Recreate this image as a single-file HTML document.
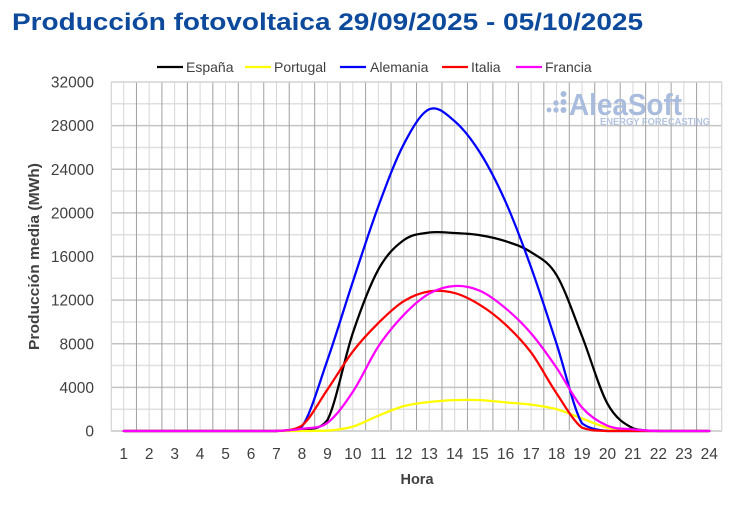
<!DOCTYPE html>
<html>
<head>
<meta charset="utf-8">
<style>
  html, body { margin: 0; padding: 0; background: #ffffff; }
  svg { display: block; }
  text { font-family: "Liberation Sans", "DejaVu Sans", sans-serif; }
</style>
</head>
<body>
<svg width="730" height="509" viewBox="0 0 730 509" xmlns="http://www.w3.org/2000/svg">
  <rect width="730" height="509" fill="#ffffff"/>

  <!-- Title -->
  <text x="12" y="30" font-size="24" font-weight="bold" fill="#0d4a9c" textLength="631" lengthAdjust="spacingAndGlyphs">Producción fotovoltaica 29/09/2025 - 05/10/2025</text>

  <!-- Legend -->
  <g font-size="14" fill="#404040">
    <line x1="157" y1="67" x2="183" y2="67" stroke="#000000" stroke-width="2.25"/>
    <text x="186" y="72">España</text>
    <line x1="245" y1="67" x2="271" y2="67" stroke="#ffff00" stroke-width="2.25"/>
    <text x="274" y="72">Portugal</text>
    <line x1="340" y1="67" x2="366" y2="67" stroke="#0000ff" stroke-width="2.25"/>
    <text x="370" y="72">Alemania</text>
    <line x1="442" y1="67" x2="468" y2="67" stroke="#ff0000" stroke-width="2.25"/>
    <text x="471" y="72">Italia</text>
    <line x1="516" y1="67" x2="542" y2="67" stroke="#ff00ff" stroke-width="2.25"/>
    <text x="545" y="72">Francia</text>
  </g>

  <!-- Grid: minor horizontal (2000s) -->
  <g stroke="#e0e0e0" stroke-width="1.5">
    <line x1="111" y1="409.19" x2="722" y2="409.19"/>
    <line x1="111" y1="365.56" x2="722" y2="365.56"/>
    <line x1="111" y1="321.94" x2="722" y2="321.94"/>
    <line x1="111" y1="278.31" x2="722" y2="278.31"/>
    <line x1="111" y1="234.69" x2="722" y2="234.69"/>
    <line x1="111" y1="191.06" x2="722" y2="191.06"/>
    <line x1="111" y1="147.44" x2="722" y2="147.44"/>
    <line x1="111" y1="103.81" x2="722" y2="103.81"/>
  </g>
  <!-- Grid: minor vertical (category centers) -->
  <g stroke="#d6d6d6" stroke-width="1">
    <line x1="123.73" y1="82" x2="123.73" y2="431"/>
    <line x1="149.19" y1="82" x2="149.19" y2="431"/>
    <line x1="174.65" y1="82" x2="174.65" y2="431"/>
    <line x1="200.11" y1="82" x2="200.11" y2="431"/>
    <line x1="225.57" y1="82" x2="225.57" y2="431"/>
    <line x1="251.03" y1="82" x2="251.03" y2="431"/>
    <line x1="276.49" y1="82" x2="276.49" y2="431"/>
    <line x1="301.95" y1="82" x2="301.95" y2="431"/>
    <line x1="327.41" y1="82" x2="327.41" y2="431"/>
    <line x1="352.87" y1="82" x2="352.87" y2="431"/>
    <line x1="378.33" y1="82" x2="378.33" y2="431"/>
    <line x1="403.79" y1="82" x2="403.79" y2="431"/>
    <line x1="429.25" y1="82" x2="429.25" y2="431"/>
    <line x1="454.71" y1="82" x2="454.71" y2="431"/>
    <line x1="480.17" y1="82" x2="480.17" y2="431"/>
    <line x1="505.63" y1="82" x2="505.63" y2="431"/>
    <line x1="531.09" y1="82" x2="531.09" y2="431"/>
    <line x1="556.55" y1="82" x2="556.55" y2="431"/>
    <line x1="582.01" y1="82" x2="582.01" y2="431"/>
    <line x1="607.47" y1="82" x2="607.47" y2="431"/>
    <line x1="632.93" y1="82" x2="632.93" y2="431"/>
    <line x1="658.39" y1="82" x2="658.39" y2="431"/>
    <line x1="683.85" y1="82" x2="683.85" y2="431"/>
    <line x1="709.31" y1="82" x2="709.31" y2="431"/>
  </g>
  <!-- Grid: major horizontal (4000s) -->
  <g stroke="#c4c4c4" stroke-width="1.5">
    <line x1="111" y1="387.38" x2="722" y2="387.38"/>
    <line x1="111" y1="343.75" x2="722" y2="343.75"/>
    <line x1="111" y1="300.13" x2="722" y2="300.13"/>
    <line x1="111" y1="256.5" x2="722" y2="256.5"/>
    <line x1="111" y1="212.88" x2="722" y2="212.88"/>
    <line x1="111" y1="169.25" x2="722" y2="169.25"/>
    <line x1="111" y1="125.63" x2="722" y2="125.63"/>
  </g>
  <!-- Grid: major vertical (category boundaries) -->
  <g stroke="#a0a0a0" stroke-width="1">
    <line x1="136.46" y1="82" x2="136.46" y2="431"/>
    <line x1="161.92" y1="82" x2="161.92" y2="431"/>
    <line x1="187.38" y1="82" x2="187.38" y2="431"/>
    <line x1="212.84" y1="82" x2="212.84" y2="431"/>
    <line x1="238.30" y1="82" x2="238.30" y2="431"/>
    <line x1="263.76" y1="82" x2="263.76" y2="431"/>
    <line x1="289.22" y1="82" x2="289.22" y2="431"/>
    <line x1="314.68" y1="82" x2="314.68" y2="431"/>
    <line x1="340.14" y1="82" x2="340.14" y2="431"/>
    <line x1="365.60" y1="82" x2="365.60" y2="431"/>
    <line x1="391.06" y1="82" x2="391.06" y2="431"/>
    <line x1="416.52" y1="82" x2="416.52" y2="431"/>
    <line x1="441.98" y1="82" x2="441.98" y2="431"/>
    <line x1="467.44" y1="82" x2="467.44" y2="431"/>
    <line x1="492.90" y1="82" x2="492.90" y2="431"/>
    <line x1="518.36" y1="82" x2="518.36" y2="431"/>
    <line x1="543.82" y1="82" x2="543.82" y2="431"/>
    <line x1="569.28" y1="82" x2="569.28" y2="431"/>
    <line x1="594.74" y1="82" x2="594.74" y2="431"/>
    <line x1="620.20" y1="82" x2="620.20" y2="431"/>
    <line x1="645.66" y1="82" x2="645.66" y2="431"/>
    <line x1="671.12" y1="82" x2="671.12" y2="431"/>
    <line x1="696.58" y1="82" x2="696.58" y2="431"/>
  </g>
  <!-- Plot frame -->
  <line x1="111" y1="82" x2="722" y2="82" stroke="#d4d4d4" stroke-width="1.5"/>
  <line x1="111.3" y1="82" x2="111.3" y2="431" stroke="#d4d4d4" stroke-width="1.2"/>
  <line x1="721.7" y1="82" x2="721.7" y2="431" stroke="#d4d4d4" stroke-width="1.2"/>
  <line x1="111" y1="431" x2="722" y2="431" stroke="#d4d4d4" stroke-width="2"/>

  <!-- Logo -->
  <g fill="#a9bcdd">
    <circle cx="549" cy="110" r="2.4"/>
    <circle cx="556" cy="103" r="2.7"/>
    <circle cx="556" cy="110" r="2.7"/>
    <circle cx="563.5" cy="94" r="3"/>
    <circle cx="563.5" cy="102" r="3"/>
    <circle cx="563.5" cy="110" r="3"/>
    <text x="569" y="115" font-size="31" font-weight="bold" textLength="113" lengthAdjust="spacingAndGlyphs">AleaSoft</text>
    <text x="600" y="125" font-size="10.5" font-weight="bold" fill="#b3c3df" textLength="110" lengthAdjust="spacingAndGlyphs">ENERGY FORECASTING</text>
  </g>

  <!-- Series -->
  <g fill="none" stroke-width="2.25" stroke-linejoin="round" stroke-linecap="round">
    <!-- España -->
    <path stroke="#000000" d="M123.73,431 L276.49,431 C284.98,430.82 293.46,431 301.95,429.91 C310.44,428.09 318.92,431 327.41,420.09 C335.90,403.91 344.38,357.93 352.87,332.85 C361.36,307.77 369.84,285.04 378.33,269.59 C386.82,254.14 395.30,246.32 403.79,240.14 C412.28,233.96 420.76,233.69 429.25,232.51 C437.74,231.33 446.22,232.61 454.71,233.06 C463.20,233.52 471.68,233.88 480.17,235.24 C488.66,236.60 497.14,238.42 505.63,241.24 C514.12,244.06 522.60,246.51 531.09,252.14 C539.58,257.77 548.06,261.04 556.55,275.04 C565.04,289.04 573.52,314.67 582.01,336.12 C590.50,357.57 598.98,388.37 607.47,403.73 C615.96,419.09 624.44,423.73 632.93,428.27 C641.42,431 649.90,430.55 658.39,431 L709.31,431"/>
    <!-- Portugal -->
    <path stroke="#ffff00" d="M123.73,431 L301.95,431 C310.44,430.95 318.92,431 327.41,430.67 C335.90,429.94 344.38,429.13 352.87,426.64 C361.36,424.15 369.84,419.15 378.33,415.73 C386.82,412.31 395.30,408.42 403.79,406.13 C412.28,403.84 420.76,402.99 429.25,401.99 C437.74,400.99 446.22,400.45 454.71,400.14 C463.20,399.83 471.68,399.76 480.17,400.14 C488.66,400.52 497.14,401.69 505.63,402.43 C514.12,403.18 522.60,403.48 531.09,404.61 C539.58,405.74 548.06,406.88 556.55,409.19 C565.04,411.50 573.52,415.37 582.01,418.46 C590.50,421.55 598.98,425.64 607.47,427.73 C615.96,429.82 624.44,430.46 632.93,431 L709.31,431"/>
    <!-- Alemania -->
    <path stroke="#0000ff" d="M123.73,431 L276.49,431 C284.98,430.27 293.46,431 301.95,426.64 C310.44,414.83 318.92,384.29 327.41,360.11 C335.90,335.94 344.38,307.22 352.87,281.59 C361.36,255.96 369.84,229.24 378.33,206.34 C386.82,183.44 395.30,160.35 403.79,144.17 C412.28,127.99 420.76,113.09 429.25,109.27 C437.74,105.45 446.22,114.00 454.71,121.27 C463.20,128.54 471.68,139.45 480.17,152.90 C488.66,166.35 497.14,182.89 505.63,201.97 C514.12,221.06 522.60,243.78 531.09,267.41 C539.58,291.04 548.06,317.76 556.55,343.75 C565.04,369.74 573.52,408.83 582.01,423.37 C590.50,429.5 598.98,429.73 607.47,431 L709.31,431"/>
    <!-- Italia -->
    <path stroke="#ff0000" d="M123.73,431 L276.49,431 C284.98,430.09 293.46,431 301.95,425.55 C310.44,418.64 318.92,401.92 327.41,389.56 C335.90,377.20 344.38,362.48 352.87,351.39 C361.36,340.30 369.84,331.39 378.33,323.03 C386.82,314.67 395.30,306.49 403.79,301.22 C412.28,295.95 420.76,292.76 429.25,291.40 C437.74,290.04 446.22,290.77 454.71,293.04 C463.20,295.31 471.68,299.77 480.17,305.04 C488.66,310.31 497.14,316.76 505.63,324.67 C514.12,332.58 522.60,341.03 531.09,352.48 C539.58,363.93 548.06,380.83 556.55,393.37 C565.04,405.91 573.52,421.46 582.01,427.73 C590.50,431 598.98,430.46 607.47,431 L709.31,431"/>
    <!-- Francia -->
    <path stroke="#ff00ff" d="M123.73,431 L276.49,431 C284.98,430.64 293.46,430.18 301.95,428.82 C310.44,427.46 318.92,429.00 327.41,422.82 C335.90,416.64 344.38,404.46 352.87,391.74 C361.36,379.02 369.84,359.30 378.33,346.48 C386.82,333.67 395.30,323.67 403.79,314.85 C412.28,306.03 420.76,298.40 429.25,293.58 C437.74,288.76 446.22,286.40 454.71,285.95 C463.20,285.50 471.68,287.13 480.17,290.86 C488.66,294.59 497.14,301.22 505.63,308.31 C514.12,315.40 522.60,323.48 531.09,333.39 C539.58,343.30 548.06,355.39 556.55,367.75 C565.04,380.11 573.52,397.88 582.01,407.55 C590.50,417.22 598.98,422.14 607.47,425.77 C615.96,429.41 624.44,428.49 632.93,429.36 C641.42,430.23 649.90,430.73 658.39,431 L709.31,431"/>
  </g>

  <!-- Y tick labels -->
  <g font-size="15.5" fill="#404040" text-anchor="end">
    <text x="94" y="436.5">0</text>
    <text x="94" y="392.9">4000</text>
    <text x="94" y="349.3">8000</text>
    <text x="94" y="305.6">12000</text>
    <text x="94" y="262">16000</text>
    <text x="94" y="218.4">20000</text>
    <text x="94" y="174.8">24000</text>
    <text x="94" y="131.1">28000</text>
    <text x="94" y="87.5">32000</text>
  </g>

  <!-- X tick labels -->
  <g font-size="15.5" fill="#404040" text-anchor="middle">
    <text x="123.73" y="459">1</text>
    <text x="149.19" y="459">2</text>
    <text x="174.65" y="459">3</text>
    <text x="200.11" y="459">4</text>
    <text x="225.57" y="459">5</text>
    <text x="251.03" y="459">6</text>
    <text x="276.49" y="459">7</text>
    <text x="301.95" y="459">8</text>
    <text x="327.41" y="459">9</text>
    <text x="352.87" y="459">10</text>
    <text x="378.33" y="459">11</text>
    <text x="403.79" y="459">12</text>
    <text x="429.25" y="459">13</text>
    <text x="454.71" y="459">14</text>
    <text x="480.17" y="459">15</text>
    <text x="505.63" y="459">16</text>
    <text x="531.09" y="459">17</text>
    <text x="556.55" y="459">18</text>
    <text x="582.01" y="459">19</text>
    <text x="607.47" y="459">20</text>
    <text x="632.93" y="459">21</text>
    <text x="658.39" y="459">22</text>
    <text x="683.85" y="459">23</text>
    <text x="709.31" y="459">24</text>
  </g>

  <!-- Axis titles -->
  <text x="417" y="484" font-size="14.5" font-weight="bold" fill="#404040" text-anchor="middle">Hora</text>
  <text transform="translate(39,256.5) rotate(-90)" x="0" y="0" font-size="14.5" font-weight="bold" fill="#404040" text-anchor="middle" textLength="187" lengthAdjust="spacingAndGlyphs">Producción media (MWh)</text>
</svg>
</body>
</html>
